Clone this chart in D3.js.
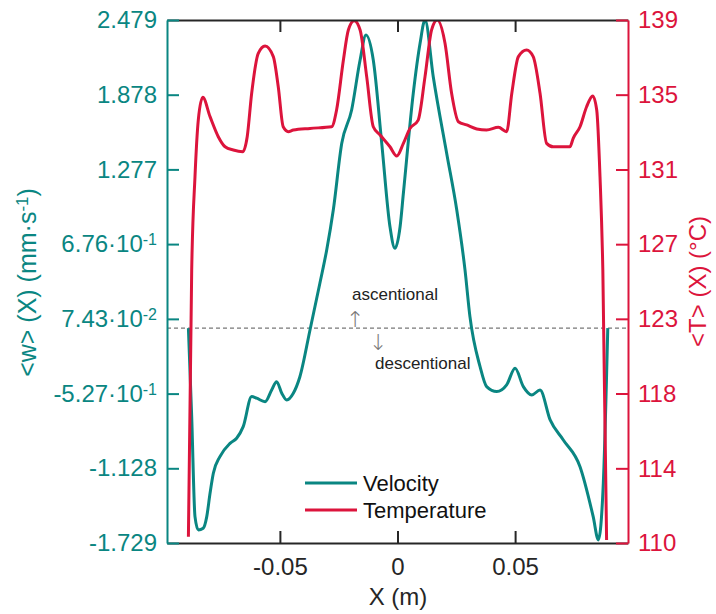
<!DOCTYPE html>
<html><head><meta charset="utf-8">
<script src="https://cdn.jsdelivr.net/npm/d3@7"></script>
<style>body{margin:0;background:#fff}svg{display:block}text{font-family:"Liberation Sans",Arial,sans-serif}</style>
</head><body><svg id="c" width="716" height="614"></svg>
<script>
// ---- data ----
const velX = [-0.0889,-0.0875,-0.0861,-0.0847,-0.0826,-0.0811,-0.0797,-0.0783,-0.0755,-0.0712,-0.0684,-0.0656,-0.0620,-0.0599,-0.0563,-0.0535,-0.0514,-0.0492,-0.0471,-0.0443,-0.0415,-0.0372,-0.0330,-0.0301,-0.0273,-0.0237,-0.0195,-0.0159,-0.0134,-0.0103,-0.0067,-0.0032,-0.0011,0.0011,0.0025,0.0067,0.0096,0.0117,0.0152,0.0209,0.0252,0.0287,0.0308,0.0351,0.0379,0.0422,0.0464,0.0500,0.0535,0.0571,0.0606,0.0649,0.0705,0.0776,0.0832,0.0854,0.0875,0.0894];
const velW = [0.000,-0.712,-1.517,-1.624,-1.610,-1.517,-1.329,-1.168,-1.034,-0.927,-0.886,-0.793,-0.551,-0.564,-0.592,-0.498,-0.431,-0.524,-0.578,-0.524,-0.391,-0.015,0.361,0.629,0.950,1.487,1.755,2.157,2.358,2.157,1.487,0.816,0.642,0.816,1.085,1.889,2.292,2.479,2.023,1.407,0.950,0.468,0.092,-0.310,-0.471,-0.511,-0.457,-0.323,-0.471,-0.538,-0.498,-0.739,-0.900,-1.115,-1.517,-1.704,-1.248,0.000];
const tempX = [-0.0889,-0.0875,-0.0861,-0.0847,-0.0828,-0.0797,-0.0762,-0.0733,-0.0698,-0.0658,-0.0639,-0.0620,-0.0592,-0.0563,-0.0528,-0.0507,-0.0486,-0.0464,-0.0443,-0.0372,-0.0280,-0.0259,-0.0230,-0.0209,-0.0184,-0.0159,-0.0131,-0.0103,-0.0074,-0.0032,-0.0003,0.0025,0.0053,0.0088,0.0117,0.0145,0.0169,0.0202,0.0230,0.0259,0.0294,0.0337,0.0379,0.0429,0.0464,0.0486,0.0514,0.0549,0.0577,0.0606,0.0634,0.0662,0.0733,0.0747,0.0776,0.0804,0.0830,0.0847,0.0861,0.0873,0.0889];
const tempT = [110.35,125.14,130.31,133.45,134.71,133.64,132.53,131.97,131.79,131.70,132.53,134.94,137.15,137.56,136.97,135.30,133.08,132.81,132.90,132.99,133.08,134.01,136.78,138.45,138.96,138.45,135.86,133.08,132.62,131.97,131.46,132.16,132.99,133.45,135.86,138.45,139.00,137.71,134.94,133.36,133.18,132.96,132.90,133.05,132.81,134.94,136.97,137.34,136.97,134.94,132.16,131.97,131.97,132.44,133.08,134.19,134.79,134.01,130.31,125.14,110.17];
const xTicks = [-0.05, 0, 0.05];
const xTickLabels = ["-0.05","0","0.05"];
const velTicks = [-1.729,-1.128,-0.527,0.0743,0.676,1.277,1.878,2.479];
const velTickLabels = [["-1.729",""],["-1.128",""],["-5.27·10","-1"],["7.43·10","-2"],["6.76·10","-1"],["1.277",""],["1.878",""],["2.479",""]];
const tempTicks = [110,114.14,118.29,122.43,126.57,130.71,134.86,139];
const tempTickLabels = ["110","114","118","123","127","131","135","139"];
const seriesNames = ["Velocity","Temperature"];

// ---- layout ----
const L=167, R=628, T=20, B=543;
const TEAL="#0a8682", RED="#dc143c", DARK="#262626";
const svg=d3.select("#c");
const x=d3.scaleLinear().domain([-0.098,0.098]).range([L,R]);
const yV=d3.scaleLinear().domain([-1.729,2.479]).range([B,T]);
const yT=d3.scaleLinear().domain([110,139]).range([B,T]);

svg.append("defs").append("clipPath").attr("id","clip").append("rect")
  .attr("x",L).attr("y",T).attr("width",R-L).attr("height",B-T);

// zero reference (dashed)
svg.append("line").attr("x1",L).attr("x2",R).attr("y1",yV(0)).attr("y2",yV(0))
  .attr("stroke","#555").attr("stroke-width",1).attr("stroke-dasharray","4,3");

// curves
const g=svg.append("g").attr("clip-path","url(#clip)");
const lineV=d3.line().x((d,i)=>x(velX[i])).y(d=>yV(d)).curve(d3.curveMonotoneX);
const lineT=d3.line().x((d,i)=>x(tempX[i])).y(d=>yT(d)).curve(d3.curveMonotoneX);
g.append("path").attr("d",lineV(velW)).attr("fill","none").attr("stroke",TEAL).attr("stroke-width",3);
g.append("path").attr("d",lineT(tempT)).attr("fill","none").attr("stroke",RED).attr("stroke-width",3);

// axes
function style(sel,color){
  sel.select(".domain").attr("stroke",color).attr("stroke-width",2);
  sel.selectAll(".tick line").attr("stroke",color).attr("stroke-width",2);
  sel.selectAll(".tick text").attr("fill",color).style("font-size","24px").style("font-family","'Liberation Sans',Arial,sans-serif");
}
const gTop=svg.append("g").attr("transform",`translate(0,${T})`)
  .call(d3.axisTop(x).tickValues(xTicks).tickSize(-12).tickSizeOuter(0).tickFormat(""));
style(gTop,DARK);
const gB=svg.append("g").attr("transform",`translate(0,${B})`)
  .call(d3.axisBottom(x).tickValues(xTicks).tickSize(-12).tickSizeOuter(0).tickPadding(15).tickFormat((d,i)=>xTickLabels[i]));
style(gB,DARK);
const gL=svg.append("g").attr("transform",`translate(${L},0)`)
  .call(d3.axisLeft(yV).tickValues(velTicks).tickSize(-12).tickSizeOuter(0).tickPadding(10).tickFormat(""));
style(gL,TEAL);
gL.selectAll(".tick text").each(function(d,i){
  const t=d3.select(this); const lab=velTickLabels[i];
  t.append("tspan").text(lab[0]);
  if(lab[1]) t.append("tspan").attr("dy","-0.45em").style("font-size","16px").text(lab[1]);
});
const gR=svg.append("g").attr("transform",`translate(${R},0)`)
  .call(d3.axisRight(yT).tickValues(tempTicks).tickSize(-12).tickSizeOuter(0).tickPadding(10).tickFormat((d,i)=>tempTickLabels[i]));
style(gR,RED);

// axis titles
svg.append("text").attr("transform",`translate(398,605)`).attr("text-anchor","middle")
  .style("font-size","24px").attr("fill",DARK).text("X (m)");
const tl=svg.append("text").attr("transform",`translate(36,${(T+B)/2+1}) rotate(-90)`).attr("text-anchor","middle")
  .style("font-size","25px").attr("fill",TEAL);
tl.append("tspan").text("<w> (X) (mm·s");
tl.append("tspan").attr("dy","-0.45em").style("font-size","17px").text("-1");
tl.append("tspan").attr("dy","0.3em").text(")");
svg.append("text").attr("transform",`translate(706,${(T+B)/2}) rotate(-90)`).attr("text-anchor","middle")
  .style("font-size","24px").attr("fill",RED).text("<T> (X) (°C)");

// annotations
svg.append("text").attr("x",352).attr("y",300).style("font-size","17px").attr("fill","#222").text("ascentional");
svg.append("text").attr("x",375).attr("y",369).style("font-size","17px").attr("fill","#222").text("descentional");
svg.append("text").attr("x",355).attr("y",327).attr("text-anchor","middle")
  .style("font-family","'DejaVu Sans',sans-serif").style("font-size","22px").style("font-weight","300").attr("fill","#777").text("↑");
svg.append("text").attr("x",378).attr("y",350).attr("text-anchor","middle")
  .style("font-family","'DejaVu Sans',sans-serif").style("font-size","22px").style("font-weight","300").attr("fill","#777").text("↓");

// legend
const leg=svg.append("g");
[TEAL,RED].forEach((c,i)=>{
  const yy=483+i*27;
  leg.append("line").attr("x1",305).attr("x2",357).attr("y1",yy).attr("y2",yy).attr("stroke",c).attr("stroke-width",3);
  leg.append("text").attr("x",363).attr("y",yy+8).style("font-size","22px").attr("fill","#111").text(seriesNames[i]);
});
</script></body></html>
